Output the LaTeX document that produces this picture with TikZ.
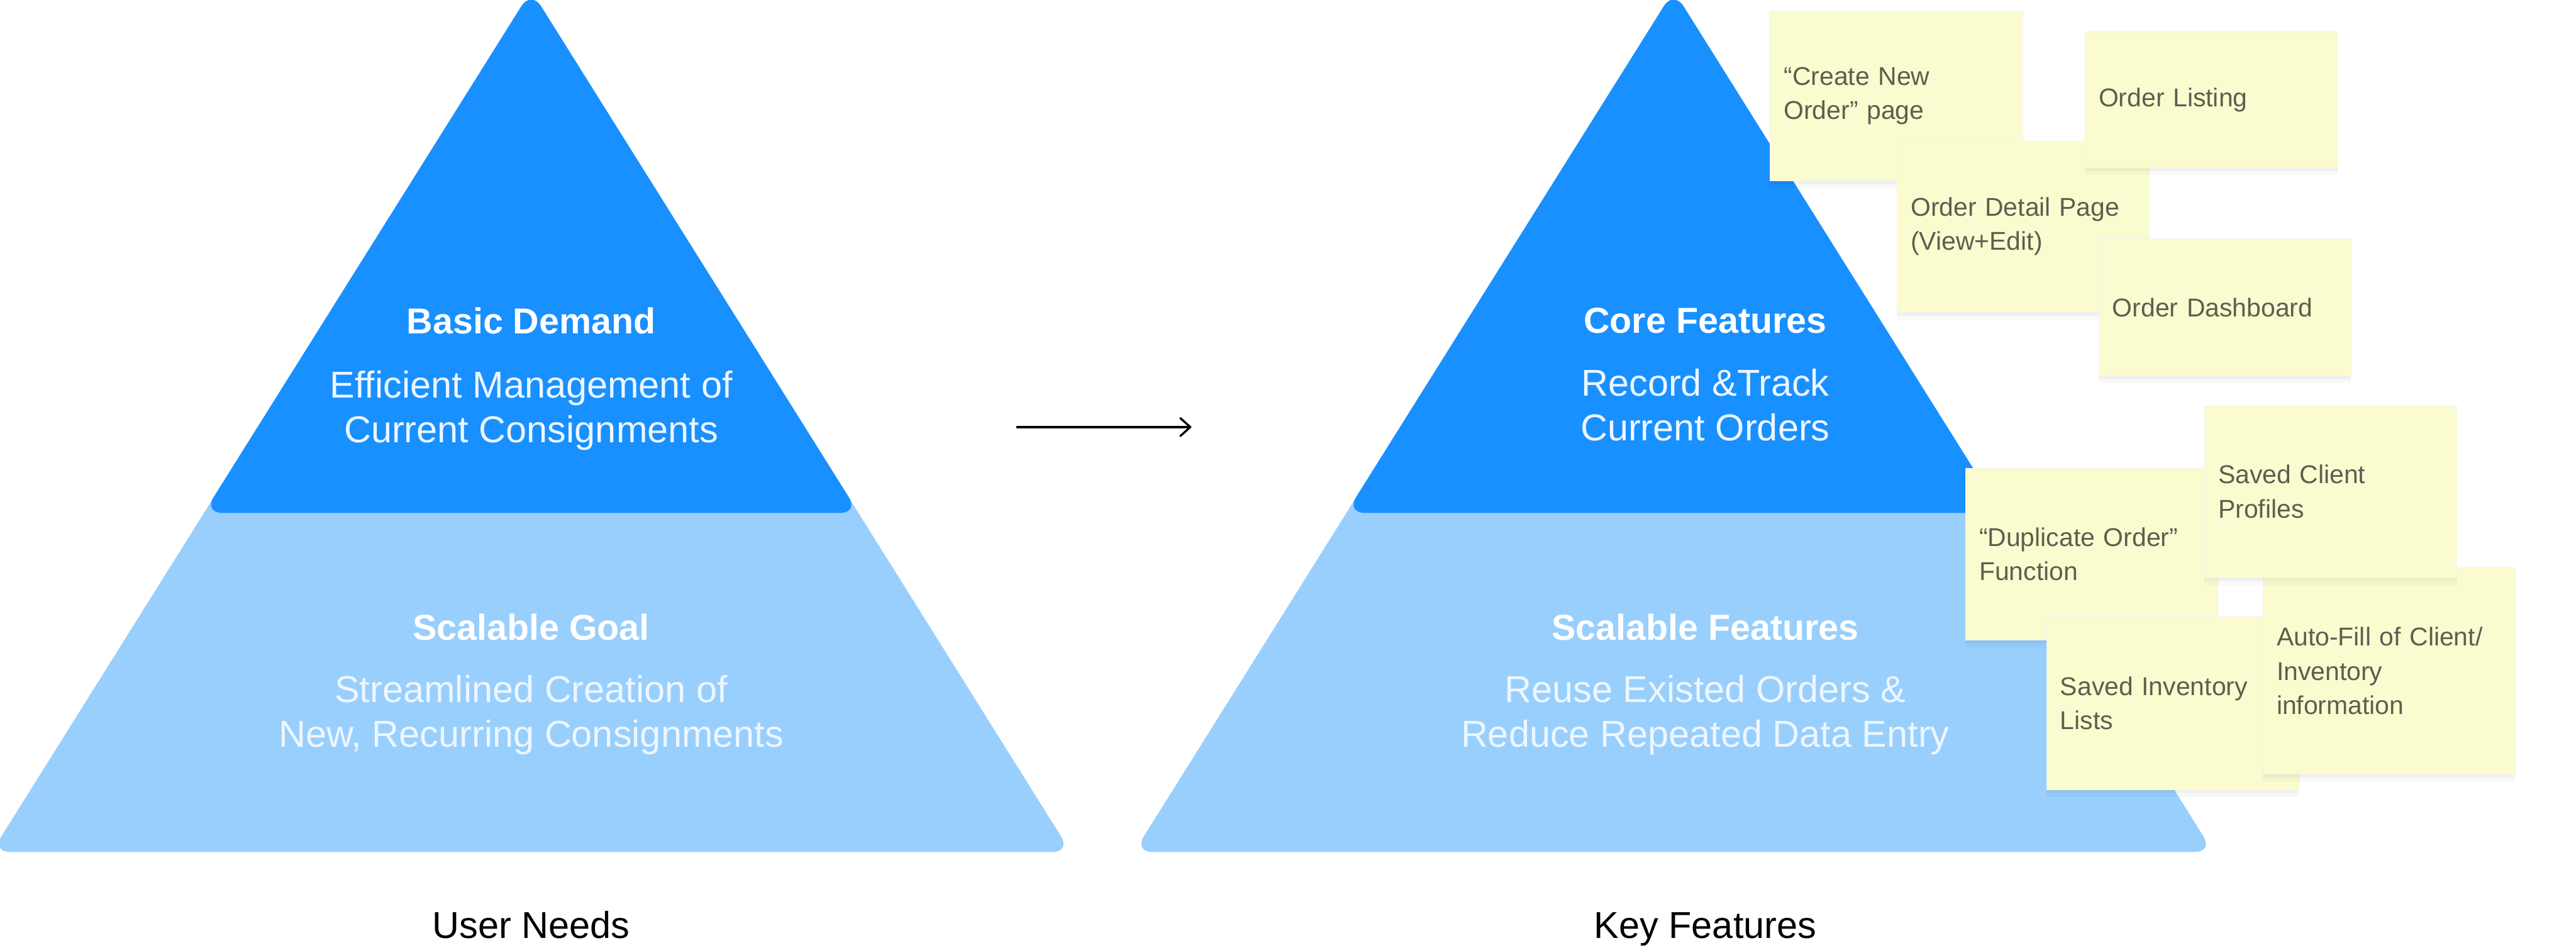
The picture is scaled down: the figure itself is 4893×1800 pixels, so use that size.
\documentclass[tikz,border=0pt]{standalone}
\usepackage{fontspec}
\setmainfont{Liberation Sans}
\usetikzlibrary{arrows.meta}
\definecolor{darkblue}{HTML}{1890FF}
\definecolor{lightblue}{HTML}{99CFFD}
\definecolor{notefill}{HTML}{FAFCCF}
\definecolor{notetext}{HTML}{5E5E50}
\definecolor{subtext}{HTML}{EDF6FF}
\begin{document}
\begin{tikzpicture}[x=0.01cm, y=-0.01cm,
  pyrshape/.style={rounded corners=0.35cm},
  ttl/.style={font=\bfseries\fontsize{19.5pt}{24pt}\selectfont, text=white, inner sep=0, anchor=base},
  subl/.style={font=\fontsize{20.2pt}{24pt}\selectfont, text=subtext, inner sep=0, anchor=base},
  lbl/.style={font=\fontsize{20.2pt}{24pt}\selectfont, text=black, inner sep=0, anchor=base},
  note/.style={fill=notefill, draw=black!5, line width=0.2pt, text=notetext,
    font=\fontsize{13.9pt}{18.5pt}\selectfont, align=left,
    inner xsep=2.6mm, inner ysep=0pt, text width=42.7mm, minimum width=47.9mm,
    anchor=north west,
    preaction={fill=black, fill opacity=0.035, draw=none, transform canvas={yshift=-0.7mm}},
    preaction={fill=black, fill opacity=0.025, draw=none, transform canvas={yshift=-1.4mm}}},
  arrowline/.style={line width=0.4mm, line cap=round,
    -{Straight Barb[length=1.9mm, width=3.4mm, line cap=round, line join=round]}}
]
\useasboundingbox (0,0) rectangle (4893,1800);
\fill[white] (0,0) rectangle (4893,1800);

% ---------- left pyramid ----------
\fill[lightblue, pyrshape] (1009,-18) -- (2034,1618) -- (-16,1618) -- cycle;
\fill[darkblue, pyrshape] (1009,-18) -- (1631,974) -- (387,974) -- cycle;

\node[ttl]  (bd)  at (1009,634)  {Basic Demand};
\node[subl] (bd1) at (1009,755)  {Efficient Management of};
\node[subl] (bd2) at (1009,840)  {Current Consignments};
\node[ttl]  (sg)  at (1009,1215) {Scalable Goal};
\node[subl] (sg1) at (1009,1334) {Streamlined Creation of};
\node[subl] (sg2) at (1009,1419) {New, Recurring Consignments};
\node[lbl]  (un)  at (1009,1782) {User Needs};

% ---------- arrow ----------
\coordinate (arrS) at (1932,811);
\coordinate (arrE) at (2263,811);
\draw[arrowline] (arrS) -- (arrE);

% ---------- right pyramid ----------
\fill[lightblue, pyrshape] (3179,-18) -- (4204,1618) -- (2154,1618) -- cycle;
\fill[darkblue, pyrshape] (3179,-18) -- (3801,974) -- (2557,974) -- cycle;

\node[ttl]  (cf)  at (3239,633)  {Core Features};
\node[subl] (cf1) at (3239,752)  {Record \&Track};
\node[subl] (cf2) at (3239,837)  {Current Orders};
\node[ttl]  (sf)  at (3239,1215) {Scalable Features};
\node[subl] (sf1) at (3239,1334) {Reuse Existed Orders \&};
\node[subl] (sf2) at (3239,1418) {Reduce Repeated Data Entry};
\node[lbl]  (kf)  at (3239,1782) {Key Features};

% ---------- sticky notes: core ----------
\node[note, minimum height=32.3mm] (nA) at (3362,20)  {“Create New\\Order” page};
\node[note, minimum height=32.5mm] (nC) at (3603,267) {Order Detail Page\\(View+Edit)};
\node[note, minimum height=25.8mm] (nB) at (3960,60)  {Order Listing};
\node[note, minimum height=26.0mm] (nD) at (3986,453) {Order Dashboard};

% ---------- sticky notes: scalable ----------
\node[note, minimum height=32.6mm] (nE) at (3733,889)  {“Duplicate Order”\\Function};
\node[note, minimum height=32.8mm] (nG) at (3887,1171) {Saved Inventory\\Lists};
\node[note, minimum height=39.1mm] (nH) at (4298,1078) {Auto-Fill of Client/\\Inventory\\information};
\node[note, minimum height=32.6mm] (nF) at (4187,770)  {Saved Client\\Profiles};
\end{tikzpicture}
\end{document}
